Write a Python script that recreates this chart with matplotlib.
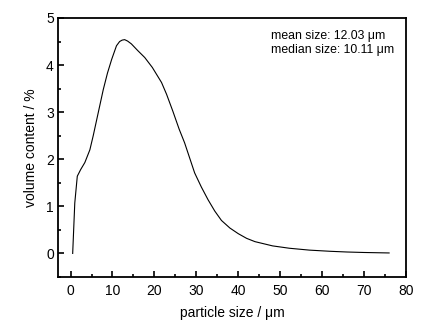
import matplotlib
matplotlib.use("Agg")
import matplotlib.pyplot as plt
from matplotlib.ticker import MultipleLocator

plt.rcParams['font.family'] = ['Liberation Sans', 'DejaVu Sans']

# particle size distribution
size_um = [0.5, 1.0, 1.6, 2.4, 3.4, 4.6, 5.4, 6.6, 7.8, 8.8, 9.8, 10.95, 11.7, 12.3,
           12.9, 13.6, 14.5, 16.0, 17.7, 19.5, 21.7, 22.9, 24.4, 25.9, 27.2,
           28.4, 29.6, 31.2, 32.8, 34.4, 36.0, 38.0, 40.0, 42.0, 44.0, 48.2,
           52.2, 57.0, 62.0, 66.0, 70.0, 76.0]
volume_pct = [0.0, 1.07, 1.64, 1.78, 1.93, 2.2, 2.5, 2.99, 3.48, 3.83, 4.12, 4.41, 4.5, 4.53,
              4.54, 4.51, 4.45, 4.31, 4.16, 3.95, 3.63, 3.38, 3.02, 2.64, 2.35,
              2.03, 1.71, 1.41, 1.14, 0.90, 0.70, 0.54, 0.42, 0.32, 0.25, 0.16,
              0.11, 0.07, 0.045, 0.03, 0.02, 0.01]

fig = plt.figure(figsize=(4.25, 3.27), dpi=100)
ax = fig.add_axes([0.1365, 0.153, 0.8185, 0.792])

ax.plot(size_um, volume_pct, color='black', linewidth=0.8)

ax.set_xlim(-3, 80)
ax.set_ylim(-0.5, 5)
ax.xaxis.set_major_locator(MultipleLocator(10))
ax.xaxis.set_minor_locator(MultipleLocator(5))
ax.yaxis.set_major_locator(MultipleLocator(1))
ax.yaxis.set_minor_locator(MultipleLocator(0.5))
ax.tick_params(which='both', direction='in', top=False, right=False,
               labelsize=10, width=1.2, colors='black')
ax.tick_params(which='major', length=4, pad=5)
ax.tick_params(axis='y', which='major', pad=3)
ax.tick_params(which='minor', length=2)
for s in ax.spines.values():
    s.set_linewidth(1.3)

ax.set_xlabel('particle size / μm', fontsize=10, labelpad=6)
ax.set_ylabel('volume content / %', fontsize=10, labelpad=6)

ax.text(0.611, 0.955, 'mean size: 12.03 μm\nmedian size: 10.11 μm',
        transform=ax.transAxes, fontsize=8.8, va='top', ha='left',
        linespacing=1.25)

fig.savefig('out.png', dpi=100)
